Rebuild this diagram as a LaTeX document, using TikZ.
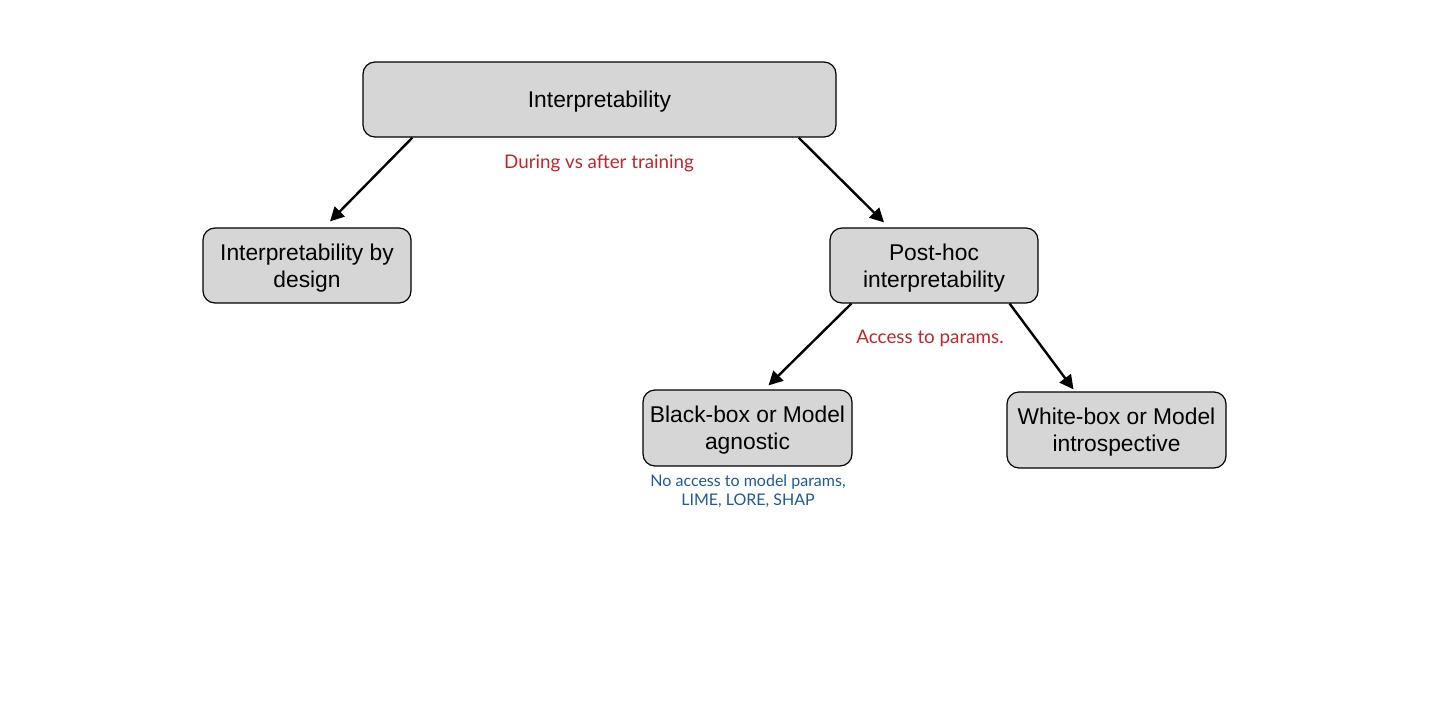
\documentclass[tikz,border=0pt]{standalone}
\usepackage{fontspec}
\setmainfont{Liberation Sans}
\newfontfamily\notefont{Lato}
\usetikzlibrary{arrows.meta}
\definecolor{boxgray}{HTML}{D6D6D6}
\definecolor{notered}{HTML}{C0262D}
\definecolor{noteblue}{HTML}{1E5A94}
\newcommand{\bxtext}[1]{\raisebox{-3pt}[\height][\depth]{\begin{tabular}{@{}c@{}}#1\end{tabular}}}
\tikzset{
  box/.style={draw=black, line width=1.2pt, fill=boxgray, rounded corners=12pt,
    font=\fontsize{22.8}{27}\selectfont, inner sep=0pt},
  conn/.style={line width=2.4pt, -{Triangle[length=14pt,width=14pt]}},
  rednote/.style={text=notered, font=\notefont\fontsize{18.8}{22}\selectfont},
  bluenote/.style={text=noteblue, align=center, font=\notefont\fontsize{16}{19}\selectfont},
}
\begin{document}
\begin{tikzpicture}[x=1pt,y=-1pt]
\useasboundingbox (0,0) rectangle (1436,707);
\node[box, minimum width=473pt, minimum height=75pt] (root) at (599.5,99.5) {\bxtext{Interpretability}};
\node[box, minimum width=208pt, minimum height=75pt] (design) at (307,265.5) {\bxtext{Interpretability by\\design}};
\node[box, minimum width=208pt, minimum height=75pt] (post) at (934,265.5) {\bxtext{Post-hoc\\interpretability}};
\node[box, minimum width=209pt, minimum height=76pt] (black) at (747.5,428) {\bxtext{Black-box or Model\\agnostic}};
\node[box, minimum width=219pt, minimum height=76pt] (white) at (1116.5,430) {\bxtext{White-box or Model\\introspective}};
\node[rednote] (n1) at (599,163) {During vs after training};
\node[rednote] (n2) at (930,338) {Access to params.};
\node[bluenote] (n3) at (748,491.5) {No access to model params,\\LIME, LORE, SHAP};
\draw[conn] ([xshift=50pt]root.south west) -- ([xshift=23pt,yshift=6pt]design.north);
\draw[conn] ([xshift=-38pt]root.south east) -- ([xshift=-50pt,yshift=5pt]post.north);
\draw[conn] ([xshift=22pt]post.south west) -- ([xshift=21pt,yshift=4pt]black.north);
\draw[conn] ([xshift=-29pt]post.south east) -- ([xshift=-43pt,yshift=2pt]white.north);
\end{tikzpicture}
\end{document}
